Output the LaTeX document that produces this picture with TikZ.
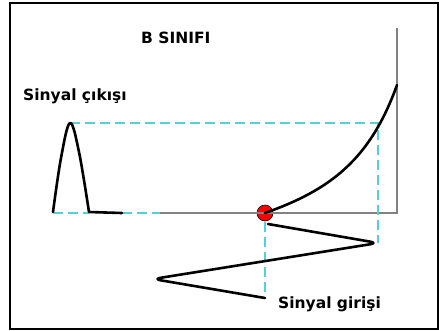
\documentclass[tikz,border=0pt]{standalone}
\usepackage{fontspec}
\newfontfamily\lblfont{DejaVu Sans}
\definecolor{guide}{RGB}{85,208,212}
\definecolor{axisgray}{RGB}{130,130,130}
\begin{document}
\begin{tikzpicture}[x=1pt,y=-1pt,
  lbl/.style={inner sep=0pt,anchor=base west,font=\lblfont\bfseries\fontsize{15.5}{18}\selectfont},
  guideline/.style={draw=guide,line width=1.2pt,dash pattern=on 10pt off 5pt},
  axisline/.style={draw=axisgray,line width=1.4pt},
  sigline/.style={draw=black,line width=2.6pt,line join=round,line cap=round}]
\useasboundingbox (0,0) rectangle (439,330);
\fill[white] (0,0) rectangle (439,330);
\draw[line width=2pt] (10,3.3) rectangle (438,329);
% coordinates
\coordinate (ax0) at (160,213);
\coordinate (axR) at (397,213);
\coordinate (axT) at (397,28);
\coordinate (q) at (265,213);
\coordinate (top) at (397,85);
\coordinate (pk) at (70,123);
\coordinate (hit) at (378,123);
\coordinate (tipR) at (378,243);
\coordinate (tipL) at (153,279);
\coordinate (inEnd) at (265,298);
\coordinate (inStart) at (268,224);
\coordinate (p0) at (53,213);
\coordinate (p1) at (89,213);
\coordinate (p2) at (122,213);
% operating point
\node[circle,fill=red,draw=black,line width=0.6pt,minimum size=16pt,inner sep=0pt] (op) at (q) {};
% axes
\draw[axisline] (ax0) -- (axR) -- (axT);
% guides
\draw[guideline] (p0) -- (p1);
\draw[guideline] (p2) -- (ax0);
\draw[guideline] (pk) -- (hit) -- (tipR);
\draw[guideline] (265,222) -- (inEnd);
% transfer curve
\draw[sigline] (q) .. controls (330,190) and (370,160) .. (top);
% input signal
\draw[sigline,rounded corners=8pt] (inStart) -- (tipR) -- (tipL) -- (inEnd);
% output pulse
\draw[sigline] plot[smooth,tension=0.6] coordinates {(53,212) (61,158) (70,123) (79,152) (89,212)} -- (p2);
% labels
\node[lbl] (title) at (141,43) {B SINIFI};
\node[lbl] (out) at (23,100) {Sinyal çıkışı};
\node[lbl] (in) at (278,308) {Sinyal girişi};
\end{tikzpicture}
\end{document}
